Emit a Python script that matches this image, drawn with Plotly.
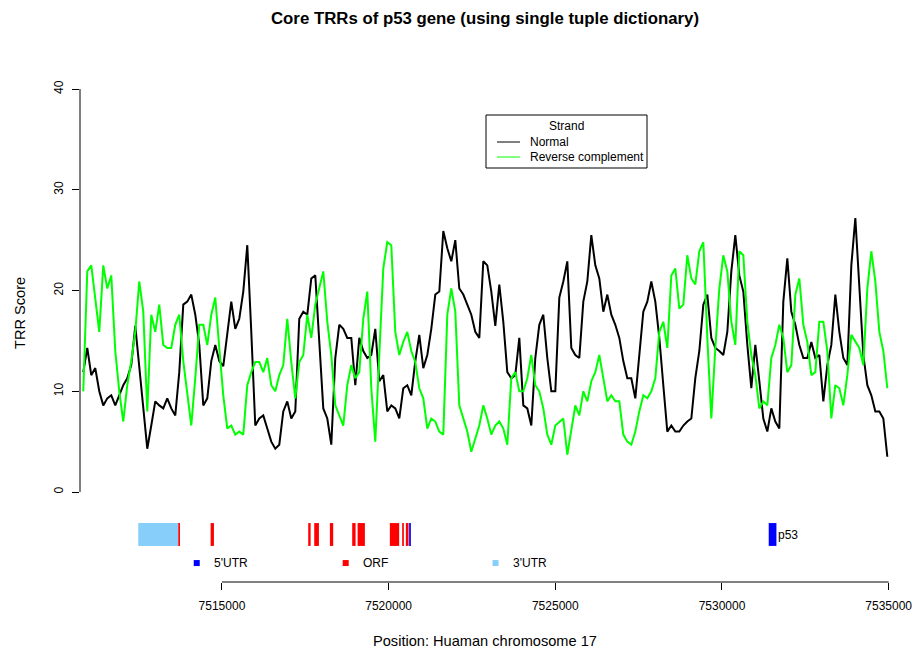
import numpy as np
import plotly.graph_objects as go

# Sliding-window TRR scores along chr17 (window start + fixed step)
WIN_START = 7510840
WIN_STEP = 120

normal_score = [
    11.9, 14.3, 11.6, 12.3, 10.0, 8.6, 9.3, 9.6, 8.6, 9.6,
    10.6, 11.3, 12.6, 16.5, 12.5, 8.6, 4.3, 6.6, 9.0, 8.6,
    8.3, 9.3, 8.3, 7.6, 11.9, 18.6, 18.9, 19.6, 17.6, 14.6,
    8.6, 9.3, 13.0, 14.6, 13.0, 12.5, 15.9, 18.9, 16.2, 17.2,
    19.9, 24.5, 15.9, 6.6, 7.3, 7.6, 6.3, 5.0, 4.3, 4.7,
    8.0, 9.0, 7.3, 8.0, 17.2, 17.9, 17.6, 21.2, 21.5, 15.3,
    8.3, 7.3, 4.7, 13.3, 16.6, 16.2, 15.3, 15.3, 10.6, 15.3,
    14.0, 13.3, 13.6, 16.2, 11.0, 11.6, 8.0, 8.6, 8.3, 7.3,
    10.3, 10.6, 9.6, 13.0, 15.6, 12.3, 13.6, 16.2, 19.6, 19.9,
    25.9, 24.2, 22.9, 25.0, 20.2, 19.6, 18.6, 17.6, 15.9, 15.3,
    22.9, 22.5, 19.9, 16.5, 20.6, 16.9, 11.9, 11.3, 11.6, 15.3,
    8.6, 8.3, 6.6, 13.3, 16.6, 17.6, 13.3, 10.0, 10.0, 19.3,
    20.9, 22.9, 14.3, 13.6, 13.3, 18.9, 20.9, 25.5, 22.5, 21.2,
    17.9, 19.6, 17.6, 16.6, 15.3, 13.0, 11.3, 11.3, 9.3, 13.6,
    17.9, 18.9, 20.9, 18.9, 15.3, 10.6, 6.0, 6.6, 6.0, 6.0,
    6.6, 7.0, 7.3, 11.3, 14.0, 18.6, 19.6, 15.3, 14.3, 14.0,
    13.6, 15.9, 21.9, 25.5, 21.5, 19.9, 14.6, 10.3, 14.6, 11.0,
    7.3, 6.0, 8.3, 7.0, 6.3, 18.9, 23.2, 17.9, 16.6, 14.6,
    13.3, 13.3, 14.9, 13.3, 13.6, 9.0, 12.6, 14.6, 19.6, 15.9,
    13.3, 12.6, 22.5, 27.2, 20.6, 13.6, 10.6, 9.6, 8.0, 8.0,
    7.3, 3.5,
]

revcomp_score = [
    10.0, 21.9, 22.5, 18.9, 15.9, 22.5, 20.2, 21.5, 14.0, 10.0,
    7.0, 10.6, 13.0, 15.9, 20.9, 17.9, 8.0, 17.6, 15.9, 18.6,
    14.6, 14.3, 14.3, 16.6, 17.6, 13.0, 9.6, 6.6, 11.3, 16.6,
    16.6, 14.6, 17.6, 19.3, 14.3, 9.6, 6.3, 6.6, 5.7, 6.0,
    5.7, 10.6, 11.9, 12.9, 12.9, 11.9, 13.3, 10.6, 10.0, 11.6,
    12.6, 17.2, 12.9, 9.3, 12.9, 13.6, 17.6, 15.3, 18.6, 20.2,
    21.9, 16.9, 13.6, 8.6, 7.6, 6.6, 10.6, 12.6, 11.3, 11.9,
    17.2, 19.9, 10.3, 5.0, 13.6, 22.2, 24.8, 24.5, 15.9, 13.6,
    14.9, 15.9, 14.0, 12.9, 10.3, 9.3, 6.3, 7.3, 7.0, 6.0,
    5.7, 17.6, 20.2, 17.9, 8.6, 7.3, 6.0, 4.0, 5.3, 6.6,
    8.6, 7.3, 5.7, 6.6, 7.0, 6.3, 4.7, 11.3, 11.9, 10.0,
    10.0, 11.3, 13.6, 10.6, 10.0, 8.3, 5.7, 4.7, 6.6, 7.0,
    7.3, 3.7, 6.0, 8.6, 7.6, 10.0, 9.0, 11.0, 11.9, 13.6,
    11.3, 9.0, 9.6, 9.0, 9.0, 5.7, 5.0, 4.7, 6.0, 8.0,
    9.6, 9.3, 10.0, 11.3, 15.9, 16.9, 14.3, 21.5, 22.2, 18.2,
    18.6, 23.5, 21.2, 20.6, 23.9, 24.8, 15.3, 7.3, 14.3, 20.2,
    23.5, 21.9, 16.9, 14.6, 23.9, 23.5, 16.9, 13.6, 11.6, 8.3,
    9.0, 8.6, 13.3, 14.6, 16.6, 15.3, 11.9, 12.6, 19.6, 21.2,
    16.6, 14.9, 11.6, 11.9, 16.9, 16.9, 14.0, 7.3, 10.6, 10.3,
    8.6, 11.6, 15.6, 14.9, 14.3, 12.6, 20.2, 23.9, 20.9, 15.9,
    14.0, 10.3,
]

positions = WIN_START + WIN_STEP * np.arange(len(normal_score))

# TP53 gene model (chr17 coordinates)
utr5_start = [7520616, 7531402]
utr5_end = [7520667, 7531633]
orf_start = [7513690, 7514661, 7517588, 7517768, 7518238, 7518907, 7519069,
             7520037, 7520406, 7520517]
orf_end = [7513741, 7514760, 7517660, 7517909, 7518337, 7519009, 7519288,
           7520316, 7520457, 7520598]
utr3_start = [7512490]
utr3_end = [7513690]

feature_names = ["5'UTR", "ORF", "3'UTR"]
feature_colors = ["#0000FF", "#FF0000", "#87CEFA"]

x_ticks = [7515000, 7520000, 7525000, 7530000, 7535000]
y_ticks = [0, 10, 20, 30, 40]

FONT = "Liberation Sans, Arial, Helvetica, sans-serif"
X_LEFT = 7510742
X_RIGHT = 7535010
Y_LOW, Y_HIGH = -8.93, 41.89
TRACK_Y0, TRACK_Y1 = -5.35, -3.08
KEY_Y = -7.05

fig = go.Figure()

fig.add_trace(go.Scatter(x=positions, y=normal_score, mode="lines",
                         line=dict(color="#000000", width=2),
                         name="Normal", showlegend=False))
fig.add_trace(go.Scatter(x=positions, y=revcomp_score, mode="lines",
                         line=dict(color="#00FF00", width=2),
                         name="Reverse complement", showlegend=False))

shapes = []
# gene structure blocks
for starts, ends, col in [(utr3_start, utr3_end, feature_colors[2]),
                          (orf_start, orf_end, feature_colors[1]),
                          (utr5_start, utr5_end, feature_colors[0])]:
    for s, e in zip(starts, ends):
        shapes.append(dict(type="rect", xref="x", yref="y", x0=s, x1=e,
                           y0=TRACK_Y0, y1=TRACK_Y1, fillcolor=col,
                           line=dict(width=0), layer="above"))

# feature key (squares + labels)
key_x = [7514244, 7518712, 7523207]
fig.add_trace(go.Scatter(x=key_x, y=[KEY_Y] * 3, mode="markers",
                         marker=dict(symbol="square", size=6, color=feature_colors,
                                     line=dict(width=0)),
                         showlegend=False, hoverinfo="skip"))

annotations = []
for kx, name in zip(key_x, feature_names):
    annotations.append(dict(x=kx + 465, y=KEY_Y, xref="x", yref="y", text=name,
                            showarrow=False, xanchor="left", yanchor="middle",
                            font=dict(family=FONT, size=12, color="#000000")))

annotations.append(dict(x=utr5_end[1], y=-4.25, xref="x", yref="y", text="p53",
                        showarrow=False, xanchor="left", yanchor="middle",
                        font=dict(family=FONT, size=12, color="#000000")))

# axis lines spanning the tick range only
shapes.append(dict(type="line", xref="x", yref="paper", x0=x_ticks[0], x1=x_ticks[-1],
                   y0=0, y1=0, line=dict(color="#000000", width=1)))
shapes.append(dict(type="line", xref="paper", yref="y", x0=0, x1=0,
                   y0=y_ticks[0], y1=y_ticks[-1], line=dict(color="#000000", width=1)))

# legend box
PLOT_L, PLOT_W, PLOT_B, PLOT_H = 80, 809, 582, 512
def px(xp):
    return (xp - PLOT_L) / PLOT_W
def py(yp):
    return (PLOT_B - yp) / PLOT_H

shapes.append(dict(type="rect", xref="paper", yref="paper",
                   x0=px(486), x1=px(647), y0=py(168), y1=py(115),
                   line=dict(color="#000000", width=1), fillcolor="white"))
annotations.append(dict(x=px(566.5), y=py(126), xref="paper", yref="paper",
                        text="Strand", showarrow=False, xanchor="center",
                        yanchor="middle", font=dict(family=FONT, size=12, color="#000000")))
for yy, label, col in [(142, "Normal", "#000000"), (157, "Reverse complement", "#00FF00")]:
    shapes.append(dict(type="line", xref="paper", yref="paper",
                       x0=px(497), x1=px(520), y0=py(yy), y1=py(yy),
                       line=dict(color=col, width=1)))
    annotations.append(dict(x=px(528), y=py(yy), xref="paper", yref="paper",
                            text=label, showarrow=False, xanchor="left",
                            yanchor="middle", font=dict(family=FONT, size=12, color="#000000")))

# titles
annotations.append(dict(x=px(484.5), y=py(18), xref="paper", yref="paper",
                        text="<b>Core TRRs of p53 gene (using single tuple dictionary)</b>",
                        showarrow=False, xanchor="center", yanchor="middle",
                        font=dict(family=FONT, size=16.8, color="#000000")))
annotations.append(dict(x=px(484.5), y=py(641), xref="paper", yref="paper",
                        text="Position: Huaman chromosome 17", showarrow=False,
                        xanchor="center", yanchor="middle",
                        font=dict(family=FONT, size=14.6, color="#000000")))
annotations.append(dict(x=px(20), y=py(313), xref="paper", yref="paper",
                        text="TRR Score", showarrow=False, textangle=-90,
                        xanchor="center", yanchor="middle",
                        font=dict(family=FONT, size=14.6, color="#000000")))

fig.update_layout(
    width=919, height=651,
    margin=dict(l=80, r=30, t=70, b=69, autoexpand=False),
    paper_bgcolor="white", plot_bgcolor="white",
    font=dict(family=FONT, size=12, color="#000000"),
    shapes=shapes, annotations=annotations, showlegend=False,
    xaxis=dict(range=[X_LEFT, X_RIGHT], tickvals=x_ticks,
               ticktext=[str(v) for v in x_ticks], ticks="outside", ticklen=7,
               tickcolor="#000000", showline=False, showgrid=False, zeroline=False,
               automargin=False, ticklabelstandoff=6,
               tickfont=dict(family=FONT, size=12, color="#000000")),
    yaxis=dict(range=[Y_LOW, Y_HIGH], tickvals=y_ticks, ticks="outside", ticklen=7,
               tickcolor="#000000", showline=False, showgrid=False, zeroline=False,
               automargin=False, tickangle=-90, ticklabelstandoff=4,
               tickfont=dict(family=FONT, size=12, color="#000000")),
)

fig.write_html("out.html")
